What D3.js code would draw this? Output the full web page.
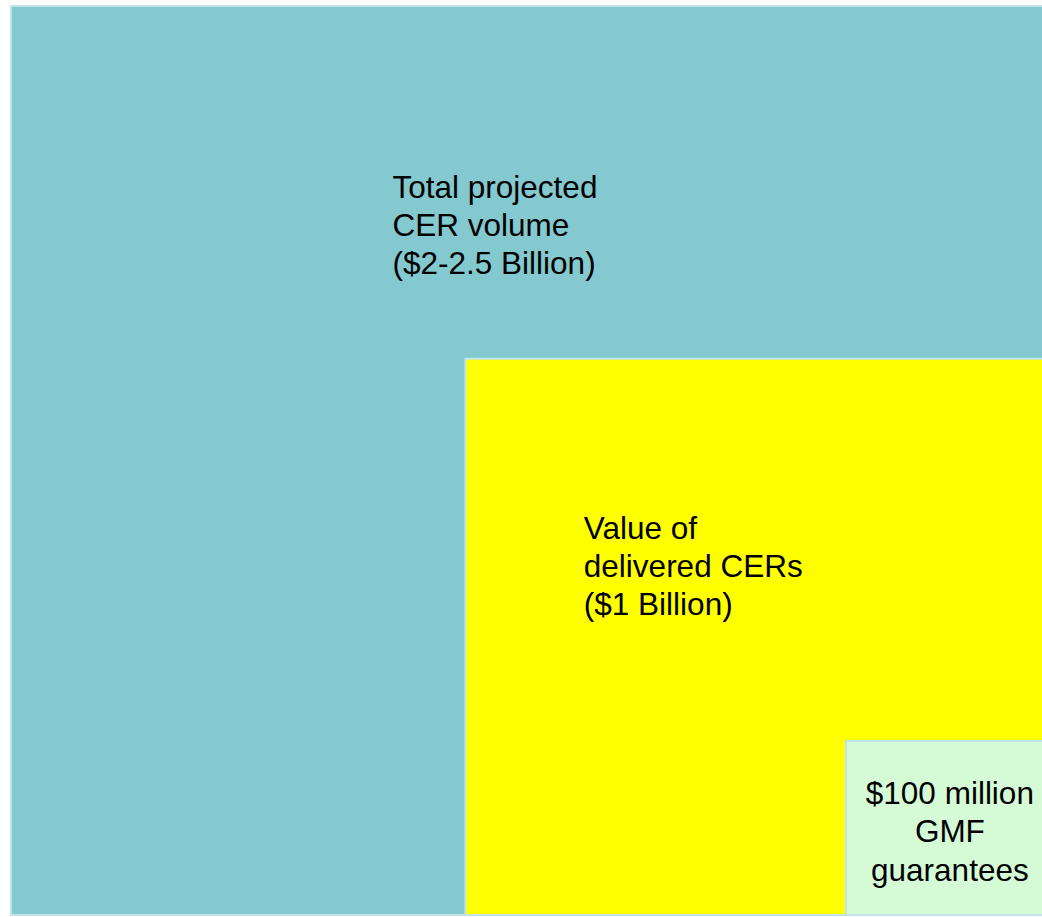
<!DOCTYPE html>
<html>
<head>
<meta charset="utf-8">
<script src="https://cdn.jsdelivr.net/npm/d3@7"></script>
<style>
  html, body { margin: 0; padding: 0; background: #fff; overflow: hidden; }
  text { font-family: "Liberation Sans", Arial, sans-serif; }
</style>
</head>
<body>
<div id="chart"></div>
<script>
// nested boxes, outermost first
var names = ["Total projected CER volume", "Value of delivered CERs", "GMF guarantees"];
var labels = [
  ["Total projected", "CER volume", "($2-2.5 Billion)"],
  ["Value of", "delivered CERs", "($1 Billion)"],
  ["$100 million", "GMF", "guarantees"]
];
var values = [2250, 1000, 100]; // $ million
// where each box starts inside the outer one (0..1)
var boxX0 = [0, 0.4395, 0.8075];
var boxY0 = [0, 0.388, 0.8086];
var colors = ["#83c9cf", "#ffff00", "#d4fbd6"];
// text anchor point in the same units
var labelX = [0.369, 0.554, 0.908];
var labelY = [0.211, 0.586, 0.878];
var labelAnchor = ["start", "start", "middle"];

var width = 1042
var height = 917

var svg = d3.select("#chart")
    .append("svg")
    .attr("width", width)
    .attr("height", height)

var xScale = d3.scaleLinear().domain([0, 1]).range([11, 1045])
var yScale = d3.scaleLinear().domain([0, 1]).range([6, 915])

var boxes = values.map(function(v, i) {
  return {name: names[i], value: v, x0: boxX0[i], y0: boxY0[i], color: colors[i],
          lines: labels[i], lx: labelX[i], ly: labelY[i], anchor: labelAnchor[i]}
})

svg.append("g").selectAll("rect")
    .data(boxes)
    .enter()
    .append("rect")
    .attr("x", function(d) { return xScale(d.x0) })
    .attr("y", function(d) { return yScale(d.y0) })
    .attr("width", function(d) { return xScale(1) - xScale(d.x0) })
    .attr("height", function(d) { return yScale(1) - yScale(d.y0) })
    .attr("fill", function(d) { return d.color })
    .attr("stroke", "#c2e4e8")
    .attr("stroke-width", 2)

var lineGap = 38.3

svg.append("g").selectAll("text")
    .data(boxes)
    .enter()
    .append("text")
    .attr("x", function(d) { return xScale(d.lx) })
    .attr("y", function(d) { return yScale(d.ly) })
    .attr("text-anchor", function(d) { return d.anchor })
    .attr("font-size", "31.5px")
    .attr("fill", "#000")
    .each(function(d) {
      var t = d3.select(this)
      d.lines.forEach(function(line, i) {
        t.append("tspan")
          .attr("x", xScale(d.lx))
          .attr("y", yScale(d.ly) + i * lineGap)
          .text(line)
      })
    })
</script>
</body>
</html>
